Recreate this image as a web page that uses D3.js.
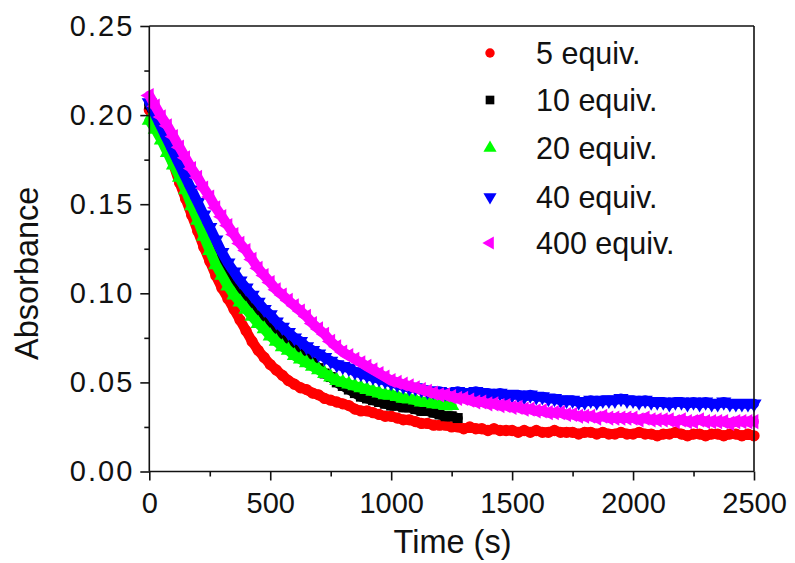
<!DOCTYPE html>
<html>
<head>
<meta charset="utf-8">
<script src="https://cdn.jsdelivr.net/npm/d3@7"></script>
<style>
  html, body { margin: 0; padding: 0; background: #fff; }
  svg text { font-family: "Liberation Sans", Arial, sans-serif; fill: #111; }
</style>
</head>
<body>
<svg id="chart" width="795" height="563"></svg>
<script>
// ---- data ----
const timeStep = 25; // seconds between samples
const seriesNames = ["5 equiv.", "10 equiv.", "20 equiv.", "40 equiv.", "400 equiv."];
const seriesColors = ["#ff0000", "#000000", "#00ff00", "#0000ff", "#ff00ff"];
const seriesShapes = ["circle", "square", "triangleUp", "triangleDown", "triangleLeft"];

const equiv5 = [
  0.203,0.197,0.190,0.181,0.172,0.162,0.153,0.144,0.135,0.126,
  0.118,0.110,0.103,0.097,0.091,0.085,0.079,0.073,0.068,0.064,
  0.060,0.057,0.054,0.051,0.049,0.047,0.046,0.044,0.043,0.041,
  0.040,0.039,0.038,0.037,0.035,0.034,0.034,0.033,0.032,0.031,
  0.031,0.030,0.029,0.029,0.028,0.027,0.027,0.026,0.026,0.026,
  0.025,0.025,0.024,0.025,0.024,0.024,0.023,0.024,0.023,0.023,
  0.023,0.022,0.023,0.022,0.023,0.022,0.022,0.023,0.022,0.022,
  0.022,0.021,0.022,0.022,0.021,0.022,0.021,0.021,0.022,0.021,
  0.021,0.022,0.021,0.021,0.020,0.021,0.021,0.022,0.021,0.020,
  0.021,0.021,0.020,0.021,0.021,0.020,0.021,0.021,0.020,0.021,
  0.020
];
const equiv10 = [
  0.206,0.199,0.191,0.184,0.177,0.169,0.161,0.154,0.146,0.139,
  0.132,0.125,0.118,0.112,0.106,0.100,0.095,0.091,0.088,0.084,
  0.081,0.078,0.075,0.073,0.070,0.068,0.065,0.061,0.058,0.055,
  0.053,0.050,0.048,0.046,0.044,0.042,0.041,0.040,0.039,0.038,
  0.037,0.037,0.036,0.036,0.035,0.034,0.034,0.033,0.032,0.031,
  0.031,0.030
];
const equiv20 = [
  0.197,0.192,0.186,0.179,0.172,0.165,0.158,0.149,0.141,0.132,
  0.124,0.116,0.110,0.104,0.099,0.095,0.091,0.087,0.083,0.080,
  0.076,0.073,0.070,0.068,0.065,0.063,0.061,0.059,0.057,0.055,
  0.053,0.051,0.050,0.049,0.048,0.047,0.046,0.045,0.044,0.043,
  0.043,0.042,0.041,0.041,0.040,0.039,0.039,0.038,0.038,0.037,
  0.037
];
const equiv40 = [
  0.207,0.200,0.193,0.186,0.179,0.172,0.165,0.158,0.151,0.144,
  0.137,0.130,0.123,0.117,0.112,0.107,0.103,0.099,0.095,0.091,
  0.088,0.084,0.081,0.078,0.075,0.073,0.070,0.068,0.066,0.064,
  0.062,0.060,0.059,0.058,0.056,0.055,0.054,0.053,0.052,0.051,
  0.050,0.049,0.048,0.047,0.047,0.046,0.045,0.045,0.045,0.044,
  0.044,0.045,0.044,0.044,0.045,0.044,0.044,0.043,0.044,0.043,
  0.043,0.043,0.042,0.043,0.042,0.042,0.041,0.041,0.040,0.040,
  0.040,0.039,0.039,0.040,0.039,0.040,0.040,0.040,0.041,0.040,
  0.040,0.039,0.040,0.039,0.039,0.039,0.038,0.039,0.039,0.038,
  0.039,0.038,0.039,0.038,0.038,0.039,0.038,0.038,0.038,0.038,
  0.038
];
const equiv400 = [
  0.211,0.205,0.199,0.194,0.188,0.182,0.176,0.170,0.165,0.159,
  0.154,0.148,0.143,0.138,0.133,0.128,0.124,0.119,0.114,0.110,
  0.106,0.102,0.099,0.096,0.093,0.090,0.087,0.083,0.080,0.077,
  0.073,0.070,0.067,0.065,0.063,0.061,0.059,0.057,0.055,0.053,
  0.051,0.050,0.049,0.048,0.047,0.046,0.045,0.044,0.043,0.043,
  0.042,0.041,0.041,0.040,0.039,0.039,0.038,0.038,0.037,0.037,
  0.036,0.036,0.035,0.035,0.034,0.034,0.033,0.033,0.033,0.032,
  0.032,0.031,0.031,0.031,0.030,0.031,0.030,0.030,0.030,0.030,
  0.030,0.029,0.030,0.029,0.029,0.029,0.029,0.028,0.029,0.028,
  0.028,0.029,0.028,0.028,0.028,0.028,0.027,0.028,0.028,0.028,
  0.028
];
const seriesValues = [equiv5, equiv10, equiv20, equiv40, equiv400];

const xTicks = [0, 500, 1000, 1500, 2000, 2500];
const yTicks = [0.00, 0.05, 0.10, 0.15, 0.20, 0.25];
const xLabel = "Time (s)";
const yLabel = "Absorbance";

// ---- layout ----
const svg = d3.select("#chart");
const L = 149.3, R = 754, T = 26, B = 471.5;
const x = d3.scaleLinear().domain([0, 2500]).range([L, R]);
const y = d3.scaleLinear().domain([0, 0.25]).range([B, T]);
const FONT = '"Liberation Sans", Arial, sans-serif';

svg.append("rect").attr("width", 795).attr("height", 563).attr("fill", "#fff");

// ---- symbols ----
function symbolPath(shape, size) {
  const base = {
    circle: d3.symbolCircle,
    square: d3.symbolSquare,
    triangleUp: d3.symbolTriangle,
    triangleDown: d3.symbolTriangle,
    triangleLeft: d3.symbolTriangle
  }[shape];
  return d3.symbol().type(base).size(size)();
}
function symbolRotation(shape) {
  return shape === "triangleDown" ? 180 : shape === "triangleLeft" ? -90 : 0;
}

// ---- series ----
const plot = svg.append("g");
seriesValues.forEach((vals, i) => {
  const pts = vals.map((v, k) => ({ t: k * timeStep, v }));
  const color = seriesColors[i];
  plot.append("path")
    .datum(pts)
    .attr("fill", "none")
    .attr("stroke", color)
    .attr("stroke-width", 10)
    .attr("stroke-linejoin", "round")
    .attr("stroke-linecap", "round")
    .attr("d", d3.line().x(d => x(d.t)).y(d => y(d.v)));
  const sp = symbolPath(seriesShapes[i], 100);
  const rot = symbolRotation(seriesShapes[i]);
  plot.selectAll(null)
    .data(pts)
    .enter().append("path")
    .attr("d", sp)
    .attr("fill", color)
    .attr("transform", d => `translate(${x(d.t)},${y(d.v)}) rotate(${rot})`);
});

// ---- axes ----
const axisColor = "#111";
const tickFont = 29;

const xAxis = d3.axisBottom(x).tickValues(xTicks).tickSize(9).tickPadding(12).tickFormat(d3.format("d"));
const gx = svg.append("g").attr("transform", `translate(0,${B})`).call(xAxis);
const xMinor = d3.axisBottom(x).tickValues(d3.range(250, 2500, 500)).tickSize(5).tickFormat("");
svg.append("g").attr("transform", `translate(0,${B})`).call(xMinor).select(".domain").remove();

const yAxis = d3.axisLeft(y).tickValues(yTicks).tickSize(9).tickPadding(6).tickFormat(d3.format(".2f"));
const gy = svg.append("g").attr("transform", `translate(${L},0)`).call(yAxis);
const yMinor = d3.axisLeft(y).tickValues([0.025, 0.075, 0.125, 0.175, 0.225]).tickSize(5).tickFormat("");
svg.append("g").attr("transform", `translate(${L},0)`).call(yMinor).select(".domain").remove();

svg.selectAll(".domain").attr("stroke", axisColor).attr("stroke-width", 1.6);
svg.selectAll(".tick line").attr("stroke", axisColor).attr("stroke-width", 1.6);
svg.selectAll(".tick text").attr("font-size", tickFont).attr("font-family", FONT).attr("fill", "#111");
gy.selectAll(".tick text").attr("letter-spacing", "2px");
gx.select(".domain").attr("d", `M${L},0H${R}`);
gy.select(".domain").attr("d", `M0,${B}V${T}`);

// frame (top and right)
svg.append("line").attr("x1", L).attr("x2", R).attr("y1", T).attr("y2", T).attr("stroke", axisColor).attr("stroke-width", 1.6);
svg.append("line").attr("x1", R).attr("x2", R).attr("y1", T).attr("y2", B).attr("stroke", axisColor).attr("stroke-width", 1.6);

// axis titles
svg.append("text").attr("x", 452.5).attr("y", 553).attr("text-anchor", "middle")
  .attr("font-size", 32.5).text(xLabel);
svg.append("text").attr("transform", `translate(38,360) rotate(-90)`).attr("text-anchor", "start")
  .attr("font-size", 32.5).text(yLabel);

// ---- legend ----
const legendY = [53, 100, 148, 197, 243];
const legend = svg.append("g");
seriesNames.forEach((name, i) => {
  const rot = symbolRotation(seriesShapes[i]);
  legend.append("path")
    .attr("d", symbolPath(seriesShapes[i], seriesShapes[i] === "circle" ? 70 : 75))
    .attr("fill", seriesColors[i])
    .attr("transform", `translate(490,${legendY[i]}) rotate(${rot})`);
  legend.append("text").attr("x", 536).attr("y", legendY[i] + 11)
    .attr("font-size", 30.5).text(name);
});
</script>
</body>
</html>
